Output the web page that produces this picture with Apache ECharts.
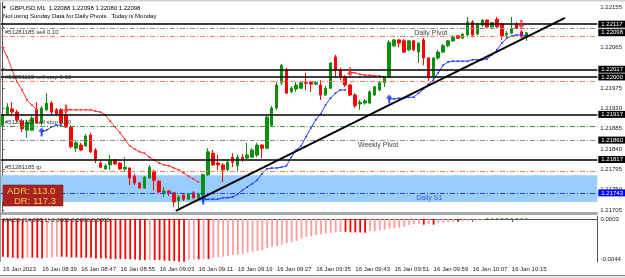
<!DOCTYPE html>
<html><head><meta charset="utf-8">
<script src="https://cdn.jsdelivr.net/npm/echarts@6/dist/echarts.min.js"></script>
<style>html,body{margin:0;padding:0;background:#fff;}#c{width:625px;height:278px;}</style>
</head><body><div id="c"></div>
<script>
// ---------------- data ----------------
const timeTicks = ['16 Jan 2023','16 Jan 08:39','16 Jan 08:47','16 Jan 08:55','16 Jan 09:03','16 Jan 09:11','16 Jan 09:19','16 Jan 09:27','16 Jan 09:35','16 Jan 09:43','16 Jan 09:51','16 Jan 09:59','16 Jan 10:07','16 Jan 10:15'];
const priceTicks = [1.22155,1.22110,1.22065,1.22020,1.21975,1.21930,1.21885,1.21840,1.21795,1.21750,1.21705];
const macdTicks = [0.0003,-0.0044];

const opens = [1.21893,1.21918,1.21929,1.21922,1.21902,1.21882,1.21882,1.21927,1.21898,1.21927,
1.21942,1.21927,1.21927,1.21916,1.21889,1.21842,1.21849,1.21847,1.21871,1.21838,
1.21809,1.21796,1.21805,1.21816,1.21809,1.21796,1.21798,1.21780,1.21765,1.21754,
1.21776,1.21791,1.21769,1.21743,1.21747,1.21743,1.21725,1.21738,1.21729,1.21743,
1.21732,1.21738,1.21783,1.21831,1.21809,1.21805,1.21794,1.21822,1.21803,1.21822,
1.21820,1.21822,1.21827,1.21849,1.21842,1.21893,1.21931,1.21987,1.22015,1.21967,
1.21973,1.21975,1.21987,1.21989,1.21984,1.21982,1.21960,1.21975,1.22044,1.22015,
1.22000,1.21982,1.21960,1.21940,1.21942,1.21942,1.21960,1.21971,1.21987,1.22000,
1.22069,1.22082,1.22080,1.22060,1.22080,1.22055,1.22082,1.22042,1.22002,1.22042,
1.22055,1.22069,1.22080,1.22091,1.22086,1.22093,1.22122,1.22095,1.22115,1.22126,
1.22111,1.22128,1.22117,1.22093,1.22097,1.22117,1.22100,1.22088];
const closes = [1.21916,1.21933,1.21922,1.21905,1.21885,1.21900,1.21909,1.21898,1.21931,1.21942,
1.21922,1.21918,1.21898,1.21889,1.21845,1.21854,1.21838,1.21869,1.21834,1.21816,
1.21800,1.21803,1.21816,1.21807,1.21796,1.21800,1.21776,1.21765,1.21754,1.21778,
1.21800,1.21771,1.21745,1.21747,1.21743,1.21723,1.21734,1.21729,1.21740,1.21732,
1.21740,1.21783,1.21834,1.21805,1.21805,1.21794,1.21811,1.21811,1.21822,1.21816,
1.21827,1.21838,1.21849,1.21842,1.21911,1.21931,1.21982,1.22026,1.21964,1.21975,
1.21982,1.21987,1.21986,1.21984,1.21987,1.21960,1.21975,1.22031,1.22015,1.22000,
1.21982,1.21960,1.21936,1.21944,1.21947,1.21967,1.21978,1.21987,1.21998,1.22077,
1.22082,1.22075,1.22055,1.22080,1.22060,1.22075,1.22042,1.21998,1.22042,1.22055,
1.22069,1.22080,1.22088,1.22086,1.22095,1.22122,1.22093,1.22115,1.22126,1.22111,
1.22120,1.22111,1.22091,1.22097,1.22108,1.22108,1.22088,1.22098];
const lows = [1.21889,1.21916,1.21916,1.21900,1.21878,1.21865,1.21880,1.21896,1.21893,1.21924,
1.21916,1.21913,1.21893,1.21887,1.21842,1.21834,1.21836,1.21845,1.21831,1.21809,
1.21798,1.21794,1.21794,1.21805,1.21794,1.21789,1.21760,1.21760,1.21752,1.21752,
1.21774,1.21749,1.21743,1.21734,1.21736,1.21712,1.21709,1.21725,1.21727,1.21729,
1.21727,1.21736,1.21780,1.21803,1.21794,1.21767,1.21791,1.21800,1.21791,1.21811,
1.21816,1.21820,1.21822,1.21820,1.21840,1.21891,1.21927,1.21982,1.21962,1.21964,
1.21967,1.21973,1.21971,1.21967,1.21982,1.21949,1.21958,1.21973,1.21998,1.21993,
1.21978,1.21958,1.21931,1.21927,1.21938,1.21940,1.21958,1.21969,1.21978,1.21998,
1.22066,1.22066,1.22053,1.22057,1.22057,1.22031,1.22026,1.21991,1.21995,1.22038,
1.22053,1.22066,1.22077,1.22084,1.22084,1.22091,1.22088,1.22093,1.22111,1.22108,
1.22108,1.22108,1.22082,1.22088,1.22095,1.22106,1.22086,1.22080];
const highs = [1.21920,1.21942,1.21944,1.21927,1.21907,1.21905,1.21913,1.21944,1.21936,1.21964,
1.21947,1.21931,1.21931,1.21922,1.21893,1.21860,1.21854,1.21873,1.21876,1.21842,
1.21816,1.21807,1.21827,1.21818,1.21811,1.21822,1.21800,1.21785,1.21767,1.21780,
1.21805,1.21794,1.21771,1.21756,1.21749,1.21745,1.21738,1.21743,1.21743,1.21747,
1.21743,1.21786,1.21842,1.21838,1.21827,1.21809,1.21816,1.21831,1.21827,1.21829,
1.21854,1.21842,1.21854,1.21851,1.21916,1.21936,1.21989,1.22029,1.22020,1.21980,
1.21989,1.21991,1.22009,1.21991,1.21991,1.21993,1.21980,1.22033,1.22049,1.22020,
1.22004,1.21984,1.21964,1.21949,1.21951,1.21971,1.21980,1.21991,1.22002,1.22082,
1.22084,1.22084,1.22084,1.22082,1.22082,1.22077,1.22086,1.22044,1.22044,1.22060,
1.22073,1.22082,1.22093,1.22093,1.22097,1.22133,1.22126,1.22120,1.22128,1.22128,
1.22122,1.22133,1.22120,1.22102,1.22133,1.22122,1.22104,1.22098];

const redTrail = [1.22066,1.22044,1.22015,1.21989,1.21971,1.21949,1.21938,1.21927,null,null,
null,null,null,1.21929,1.21927,1.21927,1.21927,1.21927,1.21927,1.21924,
1.21922,1.21916,1.21902,1.21889,1.21876,1.21862,1.21847,1.21840,1.21834,1.21831,
1.21822,1.21816,1.21809,1.21805,1.21803,1.21798,1.21794,1.21787,1.21780,1.21774,
1.21767,null,null,null,null,null,null,null,null,null,
null,null,null,null,null,null,null,null,null,null,
null,null,null,null,null,null,null,null,null,null,
null,1.22011,1.22009,1.22006,1.22004,1.22004,1.22002,1.22002,1.22000,null,
null,null,null,null,null,null,null,null,null,null,
null,null,null,null,null,null,null,null,null,null,
null,null,null,null,null,null,null,null];
const blueTrail = [null,null,null,null,null,null,null,null,1.21878,1.21882,
1.21889,1.21893,1.21893,null,null,null,null,null,null,null,
null,null,null,null,null,null,null,null,null,null,
null,null,null,null,null,null,null,null,null,null,
null,1.21727,1.21729,1.21729,1.21729,1.21732,1.21732,1.21734,1.21740,1.21749,
1.21756,1.21763,1.21771,1.21785,1.21796,1.21798,1.21798,1.21800,1.21803,1.21822,
1.21838,1.21847,1.21867,1.21887,1.21905,1.21918,1.21938,1.21953,1.21964,1.21971,
1.21971,null,null,null,null,null,null,null,null,1.21951,
1.21951,1.21953,1.21953,1.21955,1.21955,1.21964,1.21973,1.21984,1.21993,1.22009,
1.22026,1.22033,1.22035,1.22035,1.22035,1.22035,1.22038,1.22038,1.22038,1.22040,
1.22049,1.22060,1.22075,1.22086,1.22091,1.22093,1.22093,1.22091];
const buyIdx = [8, 41, 79];
const buyPx = [1.21878, 1.21727, 1.21951];
const sellIdx = [13, 71, 106];
const sellPx = [1.21929, 1.22011, 1.22117];

const trendX = [35.4, 114.9];
const trendY = [1.21703, 1.22131];

const macd = [-0.00386,-0.00393,-0.00396,-0.00403,-0.00403,-0.00396,-0.00396,-0.00396,-0.00403,-0.00396,
-0.00393,-0.00386,-0.00386,-0.00386,-0.00393,-0.00393,-0.00396,-0.00396,-0.00396,-0.00403,
-0.00403,-0.00403,-0.00410,-0.00410,-0.00410,-0.00410,-0.00413,-0.00413,-0.00420,-0.00420,
-0.00418,-0.00420,-0.00421,-0.00427,-0.00427,-0.00430,-0.00437,-0.00437,-0.00420,-0.00413,
-0.00413,-0.00410,-0.00410,-0.00396,-0.00393,-0.00386,-0.00379,-0.00369,-0.00362,-0.00359,
-0.00345,-0.00335,-0.00328,-0.00318,-0.00301,-0.00284,-0.00277,-0.00260,-0.00249,-0.00239,
-0.00226,-0.00198,-0.00182,-0.00175,-0.00165,-0.00157,-0.00147,-0.00145,-0.00137,-0.00131,
-0.00131,-0.00137,-0.00138,-0.00139,-0.00140,-0.00124,-0.00121,-0.00113,-0.00112,-0.00103,
-0.00096,-0.00090,-0.00080,-0.00062,-0.00055,-0.00049,-0.00059,-0.00052,-0.00059,-0.00045,
-0.00039,-0.00035,-0.00029,-0.00029,-0.00021,-0.00018,-0.00011,-0.00008,-0.00004,0.00001,
0.00002,0.00002,0.00002,0.00002,0.00002,0.00002,0.00002,0.00002];

const solidLevels = [1.22117, 1.22017, 1.22000, 1.21917, 1.21817];
const pivotLevels = [1.22107, 1.21860];
const pivotNames = ['Daily Pivot', 'Weekly Pivot'];
const orderLevels = [1.22091, 1.21990, 1.21890, 1.21790];
const orderNames = ['#51281185 sell 0.10', '#51281113 sell stop 0.10', '#51281113 sell stop 0.10', '#51281185 tp'];
const s1Level = 1.21743;
const s1Name = 'Daily S1';
const s1Zone = [1.21723, 1.21782];
const bidPrice = 1.22098;
const headerLine1 = 'GBPUSD,M1  1.22088 1.22098 1.22080 1.22098';
const headerLine2 = 'Not using Sunday Data for Daily Pivots.  Today is Monday';
const macdTitle = 'MACD (14,208,1) 0.0000 0.0000 0.0000';
const adrText = 'ADR: 113.0';
const drText = 'DR: 117.3';

// ---------------- build ----------------
const FONT = "'Liberation Sans', Arial, sans-serif";
const N = 122;
const cats = Array.from({length: N}, (_, k) => String(k));
const candleData = opens.map((o, i) => [o, closes[i], lows[i], highs[i]]);
const dashDot = [5, 2, 1, 2];
const orderColors = ['#ff7f50', '#ff7f50', '#3a9a3a', '#ff7f50'];
const pivotLabelDist = [150, 199];
const pivotTagBg = ['#b4b4b4', '#000'];

const lineMarks = [];
solidLevels.forEach(v => lineMarks.push({yAxis: v, lineStyle: {color: '#000', width: 1.5, type: 'solid'}, label: {show: false}}));
pivotLevels.forEach((v, k) => lineMarks.push({yAxis: v, lineStyle: {color: '#8a8a8a', width: 1, type: dashDot},
  label: {show: true, formatter: pivotNames[k], position: 'insideEndBottom', distance: [pivotLabelDist[k], 1], color: '#444', fontSize: 7, fontFamily: FONT}}));
orderLevels.forEach((v, k) => lineMarks.push({yAxis: v, lineStyle: {color: orderColors[k], width: 1, type: dashDot},
  label: {show: true, formatter: orderNames[k], position: 'insideStartTop', distance: [5, 1], color: '#333', fontSize: 6, fontFamily: FONT}}));
lineMarks.push({yAxis: s1Level, lineStyle: {color: '#1a3cff', width: 1, type: dashDot},
  label: {show: true, formatter: s1Name, position: 'insideEndBottom', distance: [155, 2], color: '#3a5fcd', fontSize: 7, fontFamily: FONT}});

const tag = (v, bg) => ({yAxis: v, lineStyle: {color: 'rgba(0,0,0,0)', width: 0, opacity: 1},
  label: {show: true, opacity: 1, position: 'end', distance: 1, formatter: v.toFixed(5),
  backgroundColor: bg, color: '#fff', fontSize: 6, fontFamily: FONT, padding: [1, 3, 0, 3]}});
lineMarks.push(tag(pivotLevels[0], pivotTagBg[0]));
solidLevels.forEach(v => lineMarks.push(tag(v, '#000')));
lineMarks.push(tag(pivotLevels[1], pivotTagBg[1]));
lineMarks.push(tag(bidPrice, '#000'));
lineMarks.push(tag(s1Level, '#0000ff'));

const macdColors = macd.map((v, i) => v > 0 ? '#22aa22' : (i > 0 && v > macd[i - 1] ? '#ff9c9c' : '#ff0000'));

const upArrow = 'path://M4,0 L8,4 L5.2,4 L5.2,9 L2.8,9 L2.8,4 L0,4 Z';
const downArrow = 'path://M2.8,0 L5.2,0 L5.2,5 L8,5 L4,9 L0,5 L2.8,5 Z';

const chart = echarts.init(document.getElementById('c'), null, {renderer: 'canvas', width: 625, height: 278});
const option = {
  animation: false,
  backgroundColor: '#fff',
  textStyle: {fontFamily: FONT},
  grid: [
    {left: -1.5, right: 27.5, top: 2, height: 210},
    {left: -1.5, right: 27.5, top: 216, height: 46}
  ],
  xAxis: [
    {type: 'category', gridIndex: 0, data: cats, boundaryGap: true, show: false},
    {type: 'value', gridIndex: 0, min: -0.5, max: N - 0.5, show: false},
    {type: 'category', gridIndex: 1, data: cats, boundaryGap: true,
      axisLine: {show: true, lineStyle: {color: '#555', width: 1}},
      axisTick: {show: true, alignWithLabel: true, length: 3, interval: (i) => i % 8 === 0 && i / 8 < timeTicks.length, lineStyle: {color: '#555'}},
      axisLabel: {show: true, interval: (i) => i % 8 === 0 && i / 8 < timeTicks.length, formatter: (v, i) => timeTicks[i / 8] || '',
        align: 'left', fontSize: 6, color: '#222', margin: 4, fontFamily: FONT}}
  ],
  yAxis: [
    {type: 'value', gridIndex: 0, position: 'right', min: 1.217006, max: 1.221661,
      axisLine: {show: true, lineStyle: {color: '#555'}},
      axisTick: {show: true, length: 2, customValues: priceTicks, lineStyle: {color: '#555'}},
      axisLabel: {show: true, customValues: priceTicks, formatter: v => v.toFixed(5), fontSize: 6, color: '#222', margin: 3, fontFamily: FONT},
      splitLine: {show: false}},
    {type: 'value', gridIndex: 1, position: 'right', min: -0.0044, max: 0.0003,
      axisLine: {show: true, lineStyle: {color: '#555'}},
      axisTick: {show: false},
      axisLabel: {show: true, customValues: macdTicks, formatter: v => (v > 0 ? '{t|' : '{b|') + v.toFixed(4) + '}',
        rich: {t: {padding: [7, 0, 0, 0], fontSize: 6, color: '#222'}, b: {padding: [0, 0, 6, 0], fontSize: 6, color: '#222'}},
        fontSize: 6, color: '#222', margin: 3, fontFamily: FONT},
      splitLine: {show: false}}
  ],
  series: [
    {type: 'line', xAxisIndex: 0, yAxisIndex: 0, data: closes, z: 1, silent: true, symbol: 'none', clip: false,
      lineStyle: {opacity: 0}, itemStyle: {opacity: 0},
      markArea: {silent: true, itemStyle: {color: '#99ccff', opacity: 1}, data: [[{yAxis: s1Zone[0]}, {yAxis: s1Zone[1]}]]},
      markLine: {silent: true, symbol: ['none', 'none'], animation: false, precision: 5, data: lineMarks}},
    {type: 'candlestick', xAxisIndex: 0, yAxisIndex: 0, data: candleData, barWidth: 3, z: 3, clip: false,
      itemStyle: {color: '#0c8f0c', color0: '#ff0000', borderColor: '#0c8f0c', borderColor0: '#ff0000', borderWidth: 1}},
    {type: 'line', xAxisIndex: 0, yAxisIndex: 0, data: redTrail, z: 4, connectNulls: false,
      lineStyle: {color: '#ff3030', width: 1}, symbol: 'circle', symbolSize: 2, itemStyle: {color: '#ff3030'}},
    {type: 'line', xAxisIndex: 0, yAxisIndex: 0, data: blueTrail, z: 4, connectNulls: false,
      lineStyle: {color: '#2a3cff', width: 1}, symbol: 'circle', symbolSize: 2, itemStyle: {color: '#2a3cff'}},
    {type: 'scatter', xAxisIndex: 0, yAxisIndex: 0, z: 5, data: buyIdx.map((x, k) => [x, buyPx[k]]),
      symbol: upArrow, symbolSize: [7, 9], itemStyle: {color: '#1030ff'}},
    {type: 'scatter', xAxisIndex: 0, yAxisIndex: 0, z: 5, data: sellIdx.map((x, k) => [x, sellPx[k]]),
      symbol: downArrow, symbolSize: [7, 9], itemStyle: {color: '#ff2020'}},
    {type: 'line', xAxisIndex: 1, yAxisIndex: 0, z: 6, data: trendX.map((x, k) => [x, trendY[k]]),
      symbol: 'none', lineStyle: {color: '#000', width: 2}},
    {type: 'bar', xAxisIndex: 2, yAxisIndex: 1, barWidth: 1.8, barMinHeight: 1,
      data: macd.map((v, i) => ({value: v, itemStyle: {color: macdColors[i]}}))}
  ],
  graphic: [
    {type: 'rect', shape: {x: 0, y: 0, width: 625, height: 1.5}, style: {fill: '#d0d0d0'}, z: 10},
    {type: 'rect', shape: {x: 0, y: 212, width: 597.5, height: 3}, style: {fill: '#a8a8a8'}, z: 10},
    {type: 'rect', shape: {x: 0, y: 275, width: 625, height: 3}, style: {fill: '#e8e8e8'}, z: 10},
    {type: 'line', shape: {x1: 0, y1: 275.5, x2: 625, y2: 275.5}, style: {stroke: '#888', lineWidth: 1}, z: 10},
    {type: 'line', shape: {x1: 0.5, y1: 2, x2: 0.5, y2: 262}, style: {stroke: '#999', lineWidth: 1}, z: 10},
    {type: 'text', x: 2, y: 5, style: {text: '▼', fill: '#000', font: '5px ' + FONT}, z: 10},
    {type: 'text', x: 10, y: 5, style: {text: headerLine1, fill: '#000', font: '6px ' + FONT}, z: 10},
    {type: 'text', x: 3, y: 13.5, style: {text: headerLine2, fill: '#000', font: '6px ' + FONT}, z: 10},
    {type: 'text', x: 3, y: 217, style: {text: macdTitle, fill: '#222', font: '6px ' + FONT}, z: 10},
    {type: 'rect', shape: {x: 3, y: 185, width: 60, height: 21}, style: {fill: '#a8231f', stroke: '#7a1512', lineWidth: 0.5}, z: 10},
    {type: 'text', x: 7, y: 186, style: {text: adrText, fill: '#f7c948', font: '9.5px ' + FONT}, z: 11},
    {type: 'text', x: 56, y: 196, style: {text: drText, fill: '#f7c948', font: '9.5px ' + FONT, align: 'right'}, z: 11}
  ]
};
chart.setOption(option);
</script>
</body></html>
